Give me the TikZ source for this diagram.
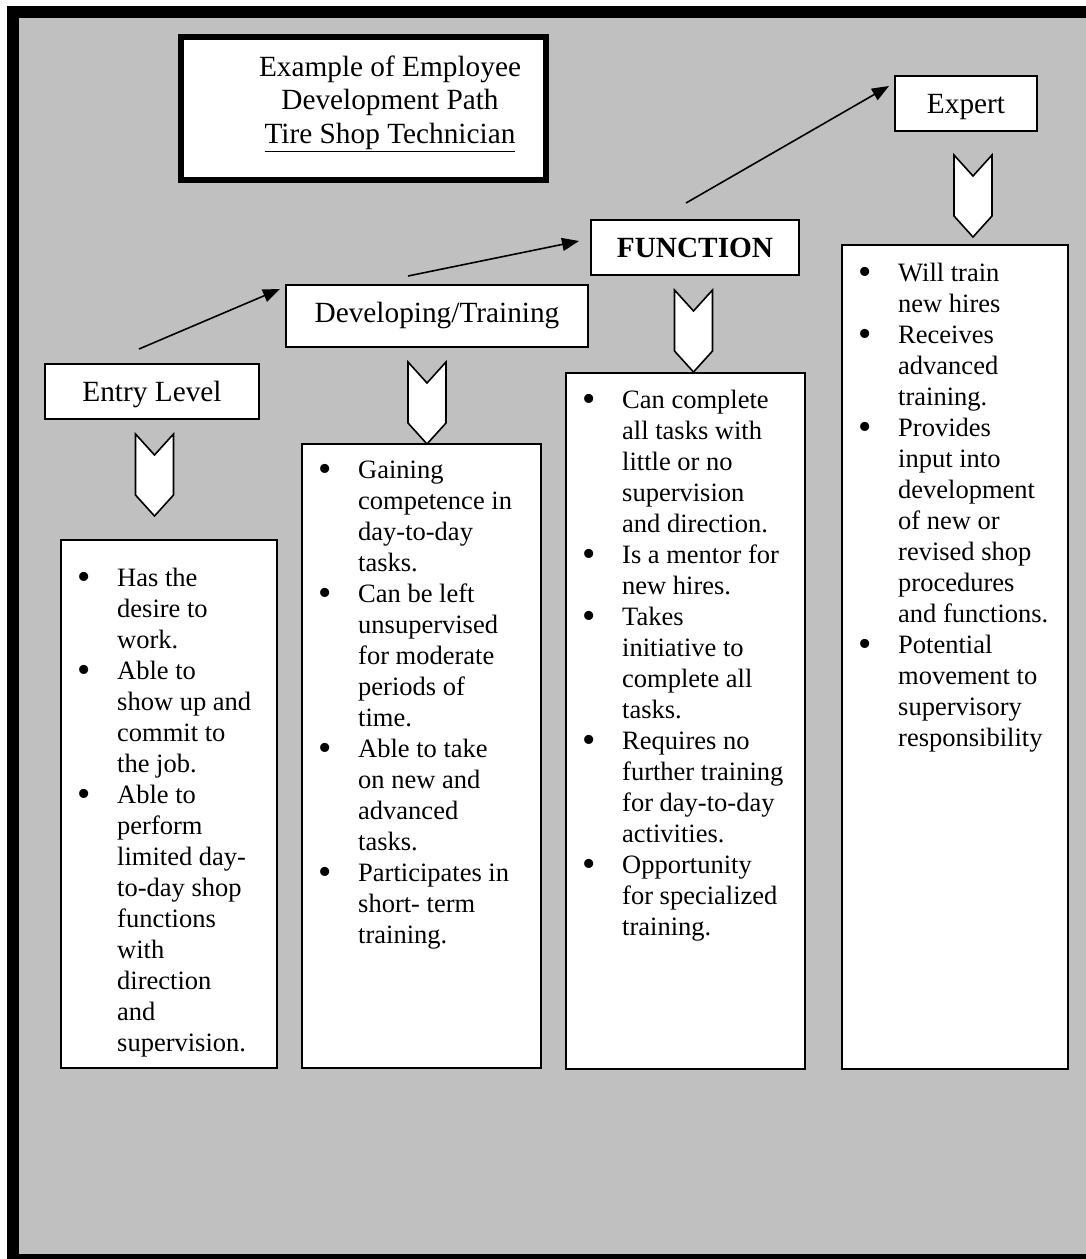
\documentclass[tikz,border=0pt]{standalone}
\usepackage{fontspec}
\setmainfont{Liberation Serif}
\usetikzlibrary{arrows.meta,calc}
\definecolor{bg}{RGB}{192,192,192}
\newcommand\bul{\llap{{\fontsize{38}{31}\selectfont\raisebox{-3.5pt}{\textbullet}}\hspace{26pt}}}
\newcommand\chevron[2]{\draw[chev] (#1-19,#2) -- (#1,#2+21) -- (#1+19,#2) -- (#1+19,#2+61) -- (#1,#2+82) -- (#1-19,#2+61) -- cycle;}
\begin{document}
\begin{tikzpicture}[x=1pt,y=-1pt,
 hbox/.style={draw=black, line width=1.8pt, fill=white, inner sep=0pt, outer sep=0pt, font=\fontsize{29.3}{33.7}\selectfont, text height=19.4pt, text depth=0pt},
 lbox/.style={draw=black, line width=1.8pt, fill=white, inner sep=0pt, outer sep=0pt, anchor=north west},
 ltxt/.style={inner sep=0pt, anchor=north west, align=left, font=\fontsize{26.5}{31}\selectfont},
 arr/.style={line width=1.6pt, -{Triangle[length=17pt,width=13pt]}},
 chev/.style={draw=black, line width=1.6pt, fill=white, line join=miter}]

\useasboundingbox (0,0) rectangle (1086,1259);
\fill[white] (0,0) rectangle (1086,1259);
% frame: black strips left, top, bottom; gray interior open to the right
\fill[black] (7,6) rectangle (1086,1259);
\fill[bg] (19,18) rectangle (1086,1254);

% title
\node[draw=black, line width=6pt, fill=white, minimum width=365pt, minimum height=143pt, inner sep=0pt, outer sep=0pt] (title) at (363.5,108.5) {};
\node[anchor=north, align=center, inner sep=0pt, font=\fontsize{29.3}{33.5}\selectfont] (ttext) at (390,52.5) {\strut Example of Employee\\ Development Path\\ \underline{Tire Shop Technician}};

% heading boxes
\node[hbox, minimum width=214pt, minimum height=55pt] (entry) at (152,391.5) {Entry Level};
\node[hbox, minimum width=302pt, minimum height=62pt, text height=12pt] (dev) at (437,316) {Developing/Training\hspace{15pt}};
\node[hbox, minimum width=208pt, minimum height=55pt, font=\fontsize{29.3}{33.7}\selectfont\bfseries] (func) at (695,247.5) {FUNCTION};
\node[hbox, minimum width=142pt, minimum height=55pt] (expert) at (966,103.5) {Expert};

% arrows
\draw[arr] ($(entry.north)+(-13,-15)$) -- ($(dev.north west)+(-6,4)$);
\draw[arr] ($(dev.north)+(-29,-9)$) -- ($(func.west)+(-12,-6.5)$);
\draw[arr] ($(func.north)+(-9,-17)$) -- ($(expert.north west)+(-6,10)$);

% chevrons
\chevron{154.5}{434}
\chevron{427}{362}
\chevron{693.5}{290}
\chevron{973}{155}

% list boxes
\node[lbox, minimum width=216pt, minimum height=528pt] (b1) at (61,540) {};
\node[lbox, minimum width=239pt, minimum height=624pt] (b2) at (302,444) {};
\node[lbox, minimum width=239pt, minimum height=696pt] (b3) at (566,373) {};
\node[lbox, minimum width=226pt, minimum height=824pt] (b4) at (842,245) {};

\node[ltxt] (t1) at ($(b1.north west)+(56,24.3)$) {\strut\bul Has the\\ desire to\\ work.\\ \bul Able to\\ show up and\\ commit to\\ the job.\\ \bul Able to\\ perform\\ limited day-\\ to-day shop\\ functions\\ with\\ direction\\ and\\ supervision.};
\node[ltxt] (t2) at ($(b2.north west)+(56,12.3)$) {\strut\bul Gaining\\ competence in\\ day-to-day\\ tasks.\\ \bul Can be left\\ unsupervised\\ for moderate\\ periods of\\ time.\\ \bul Able to take\\ on new and\\ advanced\\ tasks.\\ \bul Participates in\\ short- term\\ training.};
\node[ltxt] (t3) at ($(b3.north west)+(56,13.3)$) {\strut\bul Can complete\\ all tasks with\\ little or no\\ supervision\\ and direction.\\ \bul Is a mentor for\\ new hires.\\ \bul Takes\\ initiative to\\ complete all\\ tasks.\\ \bul Requires no\\ further training\\ for day-to-day\\ activities.\\ \bul Opportunity\\ for specialized\\ training.};
\node[ltxt] (t4) at ($(b4.north west)+(56,14.3)$) {\strut\bul Will train\\ new hires\\ \bul Receives\\ advanced\\ training.\\ \bul Provides\\ input into\\ development\\ of new or\\ revised shop\\ procedures\\ and functions.\\ \bul Potential\\ movement to\\ supervisory\\ responsibility};
\end{tikzpicture}
\end{document}
